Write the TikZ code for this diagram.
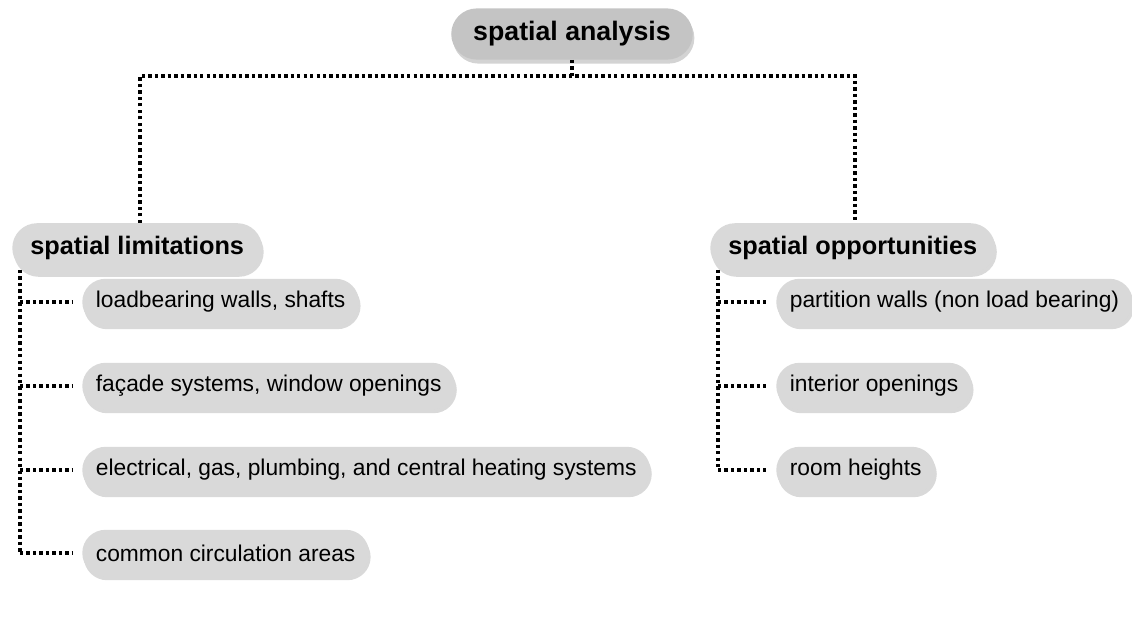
\documentclass[tikz,border=0pt]{standalone}
\usepackage{fontspec}
\setmainfont{Liberation Sans}
\usetikzlibrary{shadows}
\definecolor{pillhead}{HTML}{C4C4C4}
\definecolor{pill}{HTML}{D9D9D9}
\begin{document}
\begin{tikzpicture}[x=0.025cm, y=-0.025cm,
  head/.style={fill=pillhead, rounded corners=0.64cm, minimum height=1.28cm, inner xsep=0.55cm,
    font=\fontsize{19}{22}\selectfont\bfseries,
    drop shadow={opacity=0.35, shadow xshift=0.04cm, shadow yshift=-0.1cm}},
  sub/.style={fill=pill, rounded corners=0.62cm, minimum height=1.24cm, inner xsep=0.45cm,
    font=\fontsize{18}{21}\selectfont\bfseries,
    drop shadow={opacity=0.3, shadow xshift=0.04cm, shadow yshift=-0.1cm}},
  leaf/.style={fill=pill, rounded corners=0.58cm, minimum height=1.16cm, inner xsep=0.34cm,
    font=\fontsize{16.2}{19}\selectfont,
    drop shadow={opacity=0.3, shadow xshift=0.04cm, shadow yshift=-0.1cm}},
  link/.style={line width=3pt, dash pattern=on 2.4pt off 2.2pt}]
  \useasboundingbox (0,0) rectangle (1132,619);
  \node[head] (sa) at (572,34) {spatial analysis};
  \node[sub, anchor=west] (lim) at (12,248) {spatial limitations};
  \node[sub, anchor=west] (opp) at (710,248) {spatial opportunities};
  % limitations
  \node[leaf, anchor=west] (lim1) at (82,302) {loadbearing walls, shafts};
  \node[leaf, anchor=west] (lim2) at (82,386) {façade systems, window openings};
  \node[leaf, anchor=west] (lim3) at (82,470) {electrical, gas, plumbing, and central heating systems};
  \node[leaf, anchor=west] (lim4) at (82,553) {common circulation areas};
  % opportunities
  \node[leaf, anchor=west] (opp1) at (776,302) {partition walls (non load bearing)};
  \node[leaf, anchor=west] (opp2) at (776,386) {interior openings};
  \node[leaf, anchor=west] (opp3) at (776,470) {room heights};
  % connectors
  \coordinate (bar) at (0,76);
  \coordinate (jl) at (140,76);
  \coordinate (jr) at (855,76);
  \draw[link] (sa.south) -- (sa.south |- bar);
  \draw[link] (jl |- lim.north) -- (jl) -- (jr) -- (jr |- opp.north);
  \coordinate (railL) at (20,270);
  \coordinate (railR) at (718,270);
  \draw[link] (railL) -- (railL |- lim4);
  \draw[link] (railR) -- (railR |- opp3);
  \foreach \n in {lim1,lim2,lim3,lim4}
    \draw[link, shorten >=7] (railL |- \n) -- (\n.west);
  \foreach \n in {opp1,opp2,opp3}
    \draw[link, shorten >=7] (railR |- \n) -- (\n.west);
\end{tikzpicture}
\end{document}
